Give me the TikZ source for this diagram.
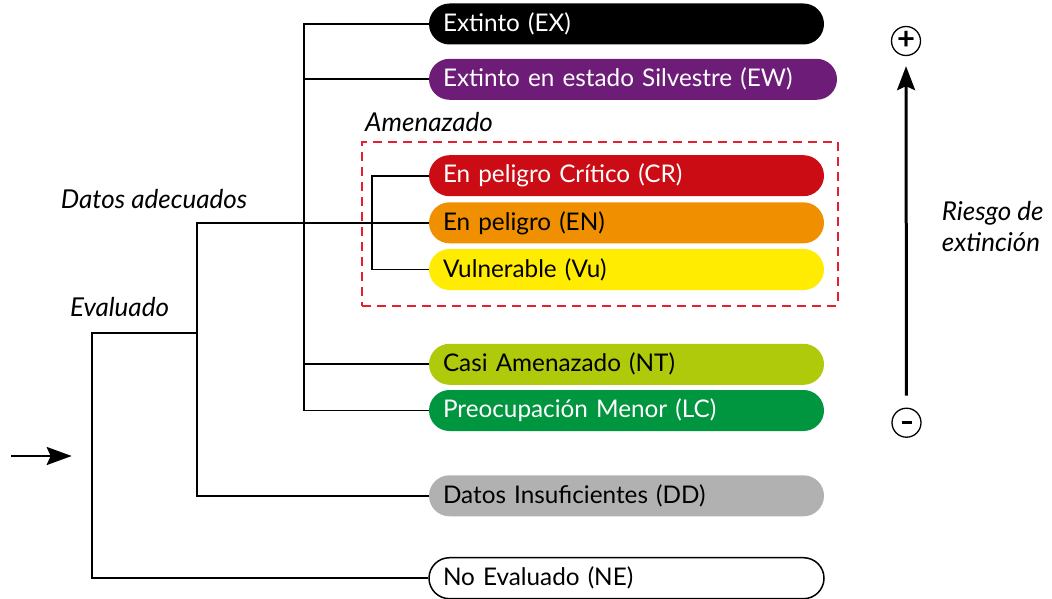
\documentclass[tikz,border=0pt]{standalone}
\usepackage{fontspec}
\setmainfont{Lato}
\usetikzlibrary{arrows.meta}
\definecolor{cEW}{HTML}{6D1D77}
\definecolor{cCR}{HTML}{CB0C14}
\definecolor{cEN}{HTML}{F09000}
\definecolor{cVU}{HTML}{FFEC00}
\definecolor{cNT}{HTML}{AFCA0B}
\definecolor{cLC}{HTML}{00963F}
\definecolor{cDD}{HTML}{B1B1B1}
\definecolor{cdash}{HTML}{E3202B}
\begin{document}
\begin{tikzpicture}[x=1pt,y=-1pt,
  pill/.style={rectangle, rounded corners=20.5pt, minimum height=41pt,
    minimum width=395pt, text width=367pt, inner xsep=14pt, inner ysep=0pt,
    align=left, font=\fontsize{24.3}{27}\selectfont},
  widepill/.style={pill, minimum width=408pt, text width=380pt},
  conn/.style={line width=1.8pt, black},
  lbl/.style={font=\fontsize{26}{28}\selectfont\itshape, anchor=base west, inner sep=0pt},
  sign/.style={circle, draw, line width=1.3pt, minimum size=29pt, inner sep=0pt,
    font=\fontsize{31}{31}\selectfont\bfseries}]
\useasboundingbox (0,0) rectangle (1052,599);

% category pills
\node[pill, fill=black, text=white] (ex) at (626.5,24) {Extinto (EX)};
\node[widepill, fill=cEW, text=white] (ew) at (633,79.3) {Extinto en estado Silvestre (EW)};
\node[pill, fill=cCR, text=white] (cr) at (626.5,175.7) {En peligro Crítico (CR)};
\node[pill, fill=cEN, text=black] (en) at (626.5,222.8) {En peligro (EN)};
\node[pill, fill=cVU, text=black] (vu) at (626.5,269.5) {Vulnerable (Vu)};
\node[pill, fill=cNT, text=black] (nt) at (626.5,364.3) {Casi Amenazado (NT)};
\node[pill, fill=cLC, text=white] (lc) at (626.5,410.5) {Preocupación Menor (LC)};
\node[pill, fill=cDD, text=black] (dd) at (626.5,495.8) {Datos Insuficientes (DD)};
\node[pill, draw=black, line width=1.5pt, fill=white, text=black] (ne) at (626.5,578.2) {No Evaluado (NE)};

% threatened group box
\node[draw=cdash, line width=2pt, dash pattern=on 9pt off 6pt, minimum width=475.7pt,
  minimum height=163.5pt, inner sep=0pt] (box) at (600.15,223.8) {};

% junctions
\coordinate (ja) at (304.3,0);
\coordinate (jb) at (196.7,332.7);
\coordinate (jc) at (92.3,332.7);
\coordinate (jd) at (372.3,0);

% connectors
\draw[conn] (ex.west) -| (ja |- lc.west) -- (lc.west);
\draw[conn] (ew.west) -- (ew.west -| ja);
\draw[conn] (nt.west) -- (nt.west -| ja);
\draw[conn] (en.west) -| (jb |- dd.west) -- (dd.west);
\draw[conn] (jb) -- (jc) |- (ne.west);
\draw[conn] (cr.west) -| (jd |- vu.west) -- (vu.west);

% labels
\node[lbl] (lamen) at (365,131.7) {Amenazado};
\node[lbl] (ldatos) at (60.7,208.3) {Datos adecuados};
\node[lbl] (leval) at (70,316.7) {Evaluado};
\node[lbl] (lries1) at (941.7,220) {Riesgo de};
\node[lbl] (lries2) at (941.7,251.7) {extinción};

% risk axis
\node[sign] (plus) at (906,41) {\raisebox{1pt}{+}};
\node[sign] (minus) at (906.5,422.7) {\rule[-1.6pt]{10pt}{3.2pt}};
\draw[line width=3pt, -{Stealth[length=24pt,width=18pt,inset=4pt]}, shorten <=12pt, shorten >=10pt]
  (minus) -- (plus);

% entry arrow
\coordinate (s0) at (11,456);
\coordinate (s1) at (71.7,456);
\draw[line width=2.8pt, -{Stealth[length=25pt,width=18pt,inset=4pt]}] (s0) -- (s1);
\end{tikzpicture}
\end{document}
